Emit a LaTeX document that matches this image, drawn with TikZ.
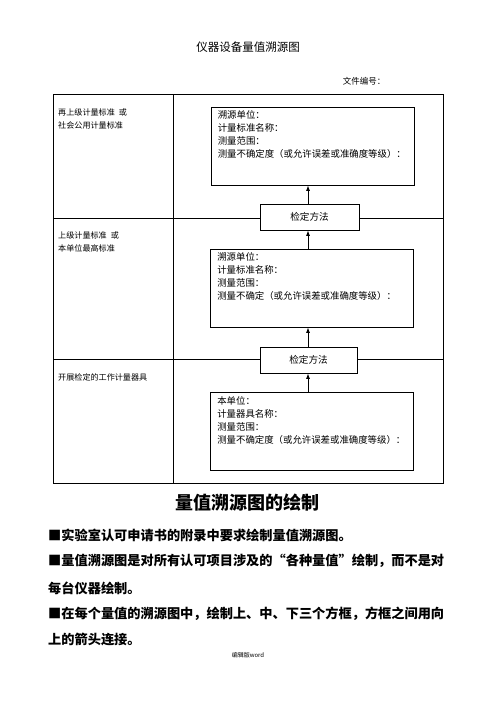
\documentclass[tikz,border=0pt]{standalone}
\usepackage{fontspec}
\newfontfamily\cjk{Noto Sans CJK SC}
\usetikzlibrary{arrows.meta,calc}
\tikzset{
  frame/.style={draw=black,line width=0.8pt},
  box/.style={draw=black,line width=0.8pt,fill=white,minimum width=203pt,minimum height=78pt,inner sep=0pt},
  boxtext/.style={anchor=north west,align=left,inner sep=0pt,font=\cjk\fontsize{9.4}{13}\selectfont},
  method/.style={draw=black,line width=0.8pt,fill=white,minimum height=26pt,inner sep=0pt,font=\cjk\fontsize{9.6}{11}\selectfont},
  lefttext/.style={anchor=north west,align=left,inner sep=0pt,font=\cjk\fontsize{8.1}{13}\selectfont},
  up/.style={line width=0.8pt,-{Latex[length=5.5pt,width=4pt]}},
  bullet/.style={anchor=west,inner sep=0pt,font=\cjk\bfseries\fontsize{13.2}{15}\selectfont},
}
\begin{document}
\begin{tikzpicture}[x=1pt,y=-1pt]
\useasboundingbox (0,0) rectangle (496,702);
% title
\node[font=\cjk\fontsize{11.5}{13}\selectfont] (title) at (248,47) {仪器设备量值溯源图};
\node[font=\cjk\fontsize{8.5}{10}\selectfont] (fileno) at (364,81) {文件编号：};
% table frame
\draw[frame] (53,94) rectangle (443,483);
\draw[frame] (173,94) -- (173,483);
\draw[frame] (53,218) -- (443,218);
\draw[frame] (53,359) -- (443,359);
% left column text
\node[lefttext] (l1) at (58,108) {再上级计量标准\enspace 或\\社会公用计量标准};
\node[lefttext] (l2) at (58,231) {上级计量标准\enspace 或\\本单位最高标准};
\node[lefttext] (l3) at (58,373) {开展检定的工作计量器具};
% boxes
\node[box] (b1) at (312.5,146) {};
\node[boxtext] (t1) at ($(b1.north west)+(7,4)$) {溯源单位：\\计量标准名称：\\测量范围：\\测量不确定度（或允许误差或准确度等级）：};
\node[box] (b2) at (312,288) {};
\node[boxtext] (t2) at ($(b2.north west)+(7,4)$) {溯源单位：\\计量标准名称：\\测量范围：\\测量不确定（或允许误差或准确度等级）：};
\node[box] (b3) at (312,431.5) {};
\node[boxtext] (t3) at ($(b3.north west)+(7,4)$) {本单位：\\计量器具名称：\\测量范围：\\测量不确定度（或允许误差或准确度等级）：};
% method boxes
\node[method,minimum width=99pt] (m1) at (309.5,217) {检定方法};
\node[method,minimum width=97pt] (m2) at (308.5,360) {检定方法};
% arrows
\draw[up] (m1.north -| 308,0) -- (b1.south -| 308,0);
\draw[up] (b2.north -| 308,0) -- (m1.south -| 308,0);
\draw[up] (m2.north -| 308,0) -- (b2.south -| 308,0);
\draw[up] (b3.north -| 308,0) -- (m2.south -| 308,0);
% heading
\node[font=\cjk\bfseries\fontsize{18}{20}\selectfont] (head) at (247,503) {量值溯源图的绘制};
% bullets
\node[bullet] (p1) at (48,535) {■实验室认可申请书的附录中要求绘制量值溯源图。};
\node[bullet] (p2) at (48,561) {■量值溯源图是对所有认可项目涉及的“各种量值”绘制，而不是对};
\node[bullet] (p3) at (48,588) {每台仪器绘制。};
\node[bullet] (p4) at (48,614) {■在每个量值的溯源图中，绘制上、中、下三个方框，方框之间用向};
\node[bullet] (p5) at (48,639) {上的箭头连接。};
% footer
\node[font=\cjk\fontsize{6}{7}\selectfont] (foot) at (248,655) {编辑版word};
\end{tikzpicture}
\end{document}
